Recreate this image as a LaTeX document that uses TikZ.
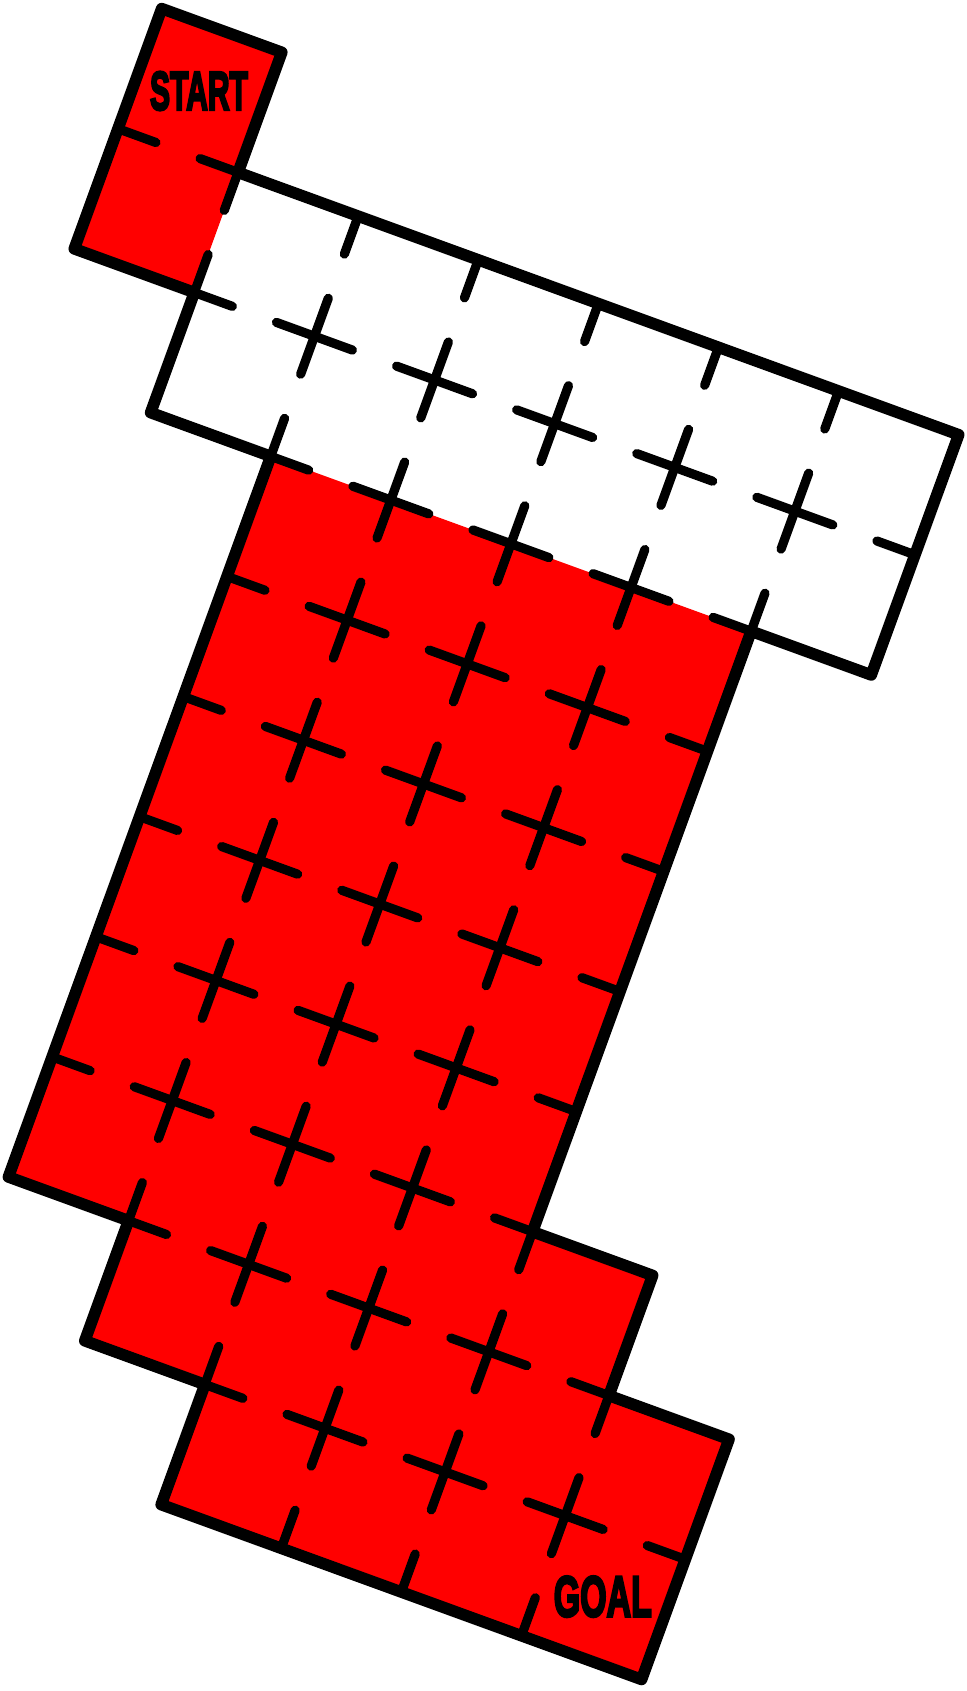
\documentclass[tikz,border=0pt]{standalone}
\usepackage{fontspec}
\newfontfamily\imp[FakeBold=5]{Liberation Sans Bold}
\tikzset{
  cellfill/.style={fill={rgb,255:red,255;green,0;blue,0}, draw=none},
  gridline/.style={line width=4.6pt, line cap=round, dash pattern=on 40.4pt off 23.5pt, dash phase=20.2pt},
  outline/.style={line width=5.8pt, line join=round},
  label/.style={inner sep=0pt, font=\imp}
}
\begin{document}
\begin{tikzpicture}
\useasboundingbox (0pt,0pt) rectangle (483pt,-845.5pt);
\begin{scope}[shift={(80.85pt,-4.3pt)}, x={(60.05pt,-21.86pt)}, y={(-21.86pt,-60.05pt)}]
  % red cells
  \fill[cellfill] (0,0) -- (1,0) -- (1,2) -- (0,2) -- cycle;
  \fill[cellfill] (2,3) -- (6,3) -- (6,8) -- (7,8) -- (7,9) -- (8,9) -- (8,11) -- (4,11) -- (4,10) -- (3,10) -- (3,9) -- (2,9) -- cycle;
  % grid vertices
  \foreach \c in {0,...,8} {\foreach \r in {0,...,11} {\coordinate (v\c-\r) at (\c,\r);}}
  % internal dashed lines (rows)
  \draw[gridline] (v0-1) -- (v1-1);
  \draw[gridline] (v1-2) -- (v7-2);
  \foreach \r in {3,...,8} {\draw[gridline] (v2-\r) -- (v6-\r);}
  \draw[gridline] (v3-9) -- (v7-9);
  \draw[gridline] (v4-10) -- (v8-10);
  % internal dashed lines (columns)
  \draw[gridline] (v1-1) -- (v1-2);
  \draw[gridline] (v2-1) -- (v2-3);
  \draw[gridline] (v3-1) -- (v3-9);
  \draw[gridline] (v4-1) -- (v4-10);
  \draw[gridline] (v5-1) -- (v5-11);
  \draw[gridline] (v6-1) -- (v6-3);
  \draw[gridline] (v6-8) -- (v6-11);
  \draw[gridline] (v7-9) -- (v7-11);
  % outline
  \draw[outline] (v0-0) -- (v1-0) -- (v1-1) -- (v7-1) -- (v7-3) -- (v6-3) -- (v6-8) -- (v7-8) -- (v7-9) -- (v8-9) -- (v8-11) -- (v4-11) -- (v4-10) -- (v3-10) -- (v3-9) -- (v2-9) -- (v2-3) -- (v1-3) -- (v1-2) -- (v0-2) -- cycle;
\end{scope}
\node[label] (start) at (99.5pt,-45.5pt) {\resizebox{49pt}{19pt}{START}};
\node[label] (goal) at (301.4pt,-798.3pt) {\resizebox{49pt}{20pt}{GOAL}};
\end{tikzpicture}
\end{document}
